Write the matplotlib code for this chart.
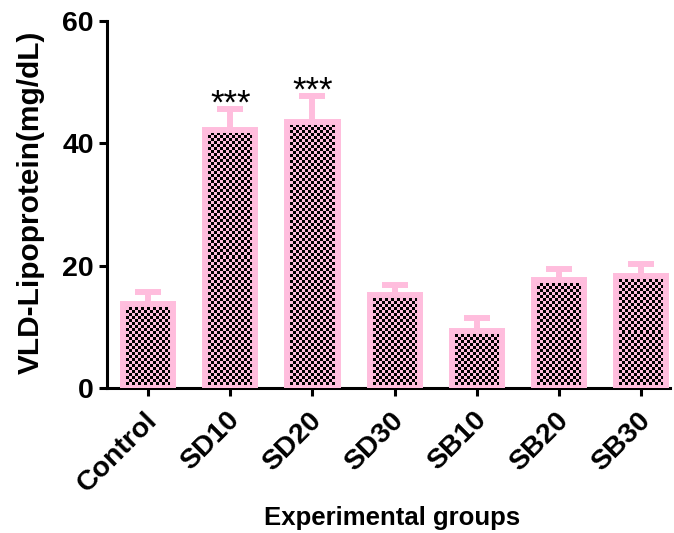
import matplotlib
matplotlib.use("Agg")
import matplotlib.pyplot as plt
import matplotlib.transforms as mtransforms
import numpy as np
from matplotlib.colors import ListedColormap

plt.rcParams['font.family'] = ['Liberation Sans', 'DejaVu Sans']
plt.rcParams['font.weight'] = 'bold'

groups = ['Control', 'SD10', 'SD20', 'SD30', 'SB10', 'SB20', 'SB30']
vldl_mean = [13.7, 42.2, 43.5, 15.2, 9.3, 17.6, 18.3]
vldl_sem = [2.0, 3.4, 4.2, 1.6, 2.1, 1.8, 2.0]
stars = ['', '***', '***', '', '', '', '']

pink = '#FFBDDD'

fig = plt.figure(figsize=(6.74, 5.33), dpi=100)
ax = fig.add_axes([107/674, 1-388/533, (670-107)/674, (388-21)/533])

x = np.arange(len(groups))
w = 0.61
ax.set_xlim(-0.5, 6.35)
ax.set_ylim(0, 60)

# error bars sit behind the bars so only the upper half shows
ax.errorbar(x, vldl_mean, yerr=vldl_sem, fmt='none', ecolor=pink,
            elinewidth=4.3, capsize=9.5, capthick=4.3, zorder=1)

bars = ax.bar(x, vldl_mean, width=w, color=pink, edgecolor='none', zorder=2)

# checkerboard fill inside every bar
px_x = ax.bbox.width / (6.35 + 0.5)
px_y = ax.bbox.height / 60
cell = 3.0
cmap = ListedColormap(['black', pink])
for xi, h, b in zip(x, vldl_mean, bars):
    ncols = max(1, int(round(w * px_x / cell)))
    nrows = max(1, int(round(h * px_y / cell)))
    ii, jj = np.indices((nrows, ncols))
    board = (ii + jj) % 2
    im = ax.imshow(board, cmap=cmap, interpolation='nearest', aspect='auto',
                   extent=(xi - w/2, xi + w/2, 0, h), origin='lower', zorder=2.5)
    im.set_clip_path(b)

ax.bar(x, vldl_mean, width=w, facecolor='none', edgecolor=pink, linewidth=4.3, zorder=3)

for xi, m, s, t in zip(x, vldl_mean, vldl_sem, stars):
    if t:
        ax.annotate(t, (xi, m + s), xytext=(0, -8), textcoords='offset points',
                    ha='center', va='bottom', fontsize=25, fontweight='normal')

ax.set_xlim(-0.5, 6.35)
ax.set_ylim(0, 60)

for side in ['top', 'right']:
    ax.spines[side].set_visible(False)
for side in ['left', 'bottom']:
    ax.spines[side].set_linewidth(2.2)

ax.set_yticks([0, 20, 40, 60])
ax.tick_params(axis='both', width=2.2, length=6, labelsize=20.5)
ax.tick_params(axis='x', pad=2)
ax.set_xticks(x)
ax.set_xticklabels(groups, rotation=45, ha='right', va='top', rotation_mode='anchor')
shift = mtransforms.ScaledTranslation(-4/100, -8/100, fig.dpi_scale_trans)
for lab in ax.get_xticklabels():
    lab.set_transform(lab.get_transform() + shift)
for lab in ax.get_yticklabels() + ax.get_xticklabels():
    lab.set_fontweight('bold')

fig.text(31/674, 1-202/533, 'VLD-Lipoprotein(mg/dL)', rotation=90, fontsize=21.5,
         fontweight='bold', ha='center', va='center')
fig.text(392/674, 1-518/533, 'Experimental groups', fontsize=18.5,
         fontweight='bold', ha='center', va='center')

fig.savefig('out.png', dpi=100)
